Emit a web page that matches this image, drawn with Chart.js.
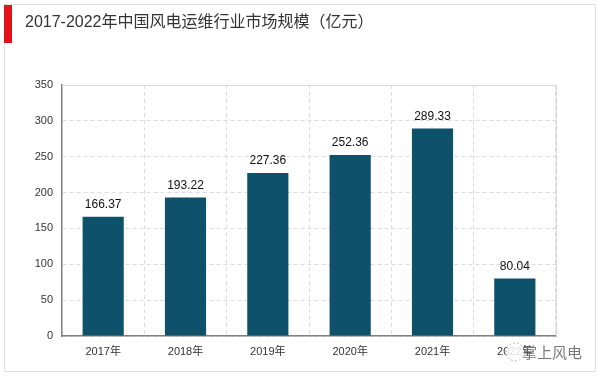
<!DOCTYPE html>
<html>
<head>
<meta charset="utf-8">
<script src="https://cdn.jsdelivr.net/npm/chart.js@4"></script>
<style>
  html, body { margin: 0; padding: 0; background: #fff; }
  canvas { display: block; }
</style>
</head>
<body>
<canvas id="myChart" width="601" height="378"></canvas>
<script>
const titleText = "2017-2022年中国风电运维行业市场规模（亿元）";
const years = ["2017年", "2018年", "2019年", "2020年", "2021年", "2022年"];
const marketSize = [166.37, 193.22, 227.36, 252.36, 289.33, 80.04];
const yTicks = [0, 50, 100, 150, 200, 250, 300, 350];

const barColor = "#0d516b";
const fontFam = "'Liberation Sans', Arial, 'Noto Sans CJK SC', sans-serif";

// frame, title, value labels, watermark
const decor = {
  id: "decor",
  beforeDraw(chart) {
    const c = chart.ctx;
    c.save();
    c.fillStyle = "#fff";
    c.fillRect(0, 0, chart.width, chart.height);
    c.strokeStyle = "#e0e0e0";
    c.lineWidth = 1;
    c.strokeRect(4.5, 4.5, 591, 367);
    c.fillStyle = "#e3121b";
    c.fillRect(4, 5, 8, 38);
    c.fillStyle = "#333";
    c.font = "16px " + fontFam;
    c.textBaseline = "middle";
    c.fillText(titleText, 25, 23);
    c.restore();
  },
  afterDatasetsDraw(chart) {
    const c = chart.ctx;
    const a = chart.chartArea;
    c.save();
    // top and right border of plot
    c.strokeStyle = "#d9d9d9";
    c.lineWidth = 1;
    c.beginPath();
    c.moveTo(a.left, Math.round(a.top) + 0.5);
    c.lineTo(Math.round(a.right) + 0.5, Math.round(a.top) + 0.5);
    c.lineTo(Math.round(a.right) + 0.5, a.bottom);
    c.stroke();
    // value labels
    c.fillStyle = "#111";
    c.font = "12px " + fontFam;
    c.textAlign = "center";
    c.textBaseline = "bottom";
    chart.getDatasetMeta(0).data.forEach((bar, i) => {
      c.fillText(marketSize[i].toFixed(2), bar.x, bar.y - 6);
    });
    c.restore();
  },
  afterDraw(chart) {
    const c = chart.ctx;
    c.save();
    c.fillStyle = "rgba(255,255,255,0.85)";
    c.beginPath();
    c.arc(515, 352, 9, 0, Math.PI * 2);
    c.fill();
    c.strokeStyle = "#bbb";
    c.setLineDash([2, 2]);
    c.stroke();
    c.setLineDash([]);
    c.fillStyle = "#777";
    c.font = "15px 'Noto Sans CJK SC', sans-serif";
    c.textBaseline = "middle";
    c.fillText("掌上风电", 522, 352);
    c.restore();
  }
};

const ctx = document.getElementById("myChart").getContext("2d");
new Chart(ctx, {
  type: "bar",
  data: {
    labels: years,
    datasets: [{
      data: marketSize,
      backgroundColor: barColor,
      barPercentage: 0.5,
      categoryPercentage: 1.0
    }]
  },
  options: {
    responsive: false,
    animation: false,
    layout: { padding: { left: 0, right: 45, top: 85, bottom: 0 } },
    plugins: { legend: { display: false }, tooltip: { enabled: false } },
    scales: {
      x: {
        afterFit(s) { s.height = 42; },
        grid: { offset: true, color: "#dcdcdc", drawTicks: false },
        // in v4 border.dash sets the grid line dashes; the axis line stays solid
        border: { color: "#7f7f7f", width: 1.5, dash: [4, 3] },
        ticks: { color: "#333", font: { size: 11, family: fontFam }, padding: 9 }
      },
      y: {
        min: 0,
        max: 350,
        afterFit(s) { s.width = 62; },
        afterBuildTicks(s) { s.ticks = yTicks.map(v => ({ value: v })); },
        grid: { color: "#dcdcdc", drawTicks: false },
        border: { color: "#7f7f7f", width: 1.5, dash: [4, 3] },
        ticks: { color: "#333", font: { size: 11, family: fontFam }, padding: 9 }
      }
    }
  },
  plugins: [decor]
});
</script>
</body>
</html>
